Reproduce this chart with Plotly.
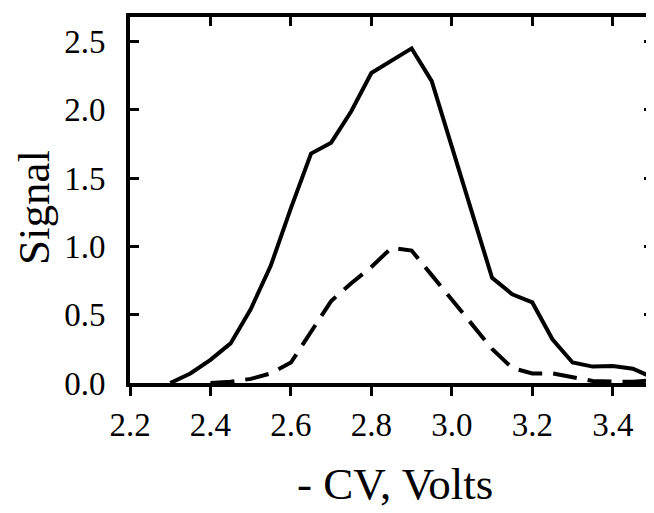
import plotly.graph_objects as go

# -CV sweep (Volts)
cv = [2.30, 2.35, 2.40, 2.45, 2.50, 2.55, 2.60, 2.65, 2.70, 2.75, 2.80, 2.85, 2.90,
      2.95, 3.00, 3.05, 3.10, 3.15, 3.20, 3.25, 3.30, 3.35, 3.40, 3.45, 3.50]
signal_solid = [0.00, 0.07, 0.17, 0.29, 0.54, 0.86, 1.28, 1.68, 1.76, 1.99, 2.27, 2.36, 2.45,
                2.21, 1.72, 1.25, 0.77, 0.65, 0.59, 0.32, 0.15, 0.12, 0.125, 0.105, 0.04]

cv_dash = [2.40, 2.45, 2.50, 2.55, 2.60, 2.65, 2.70, 2.75, 2.80, 2.85, 2.90,
           2.95, 3.00, 3.05, 3.10, 3.15, 3.20, 3.25, 3.30, 3.35, 3.40, 3.45, 3.50]
signal_dash = [0.00, 0.01, 0.03, 0.07, 0.15, 0.38, 0.60, 0.73, 0.85, 0.99, 0.97,
               0.79, 0.61, 0.43, 0.25, 0.11, 0.07, 0.07, 0.04, 0.015, 0.01, 0.01, 0.02]

x_ticks = [2.2, 2.4, 2.6, 2.8, 3.0, 3.2, 3.4]
y_ticks = [0.0, 0.5, 1.0, 1.5, 2.0, 2.5]

FONT = 'Liberation Serif'
xr = [2.2, 3.5]
yr = [0, 2.68]

fig = go.Figure()
fig.add_trace(go.Scatter(x=cv, y=signal_solid, mode='lines',
                         line=dict(color='black', width=4), showlegend=False))
fig.add_trace(go.Scatter(x=cv_dash, y=signal_dash, mode='lines',
                         line=dict(color='black', width=4, dash='24px,11px'),
                         showlegend=False))
# dummy trace so the top axis (inside ticks) gets drawn
fig.add_trace(go.Scatter(x=[2.2], y=[0], xaxis='x2', mode='markers',
                         marker=dict(opacity=0), showlegend=False, hoverinfo='skip'))

fig.update_layout(
    width=654, height=513,
    margin=dict(l=122, r=9, t=9, b=138),
    plot_bgcolor='white', paper_bgcolor='white',
    font=dict(family=FONT, color='black'),
    xaxis=dict(range=xr, tickvals=x_ticks, ticktext=[f'{v:.1f}' for v in x_ticks],
               ticks='outside', ticklen=9, tickwidth=3, tickcolor='black',
               showline=True, linewidth=4, linecolor='black', showgrid=False,
               zeroline=False, tickfont=dict(size=33), automargin=False),
    xaxis2=dict(range=xr, overlaying='x', side='top', tickvals=x_ticks,
                ticks='inside', ticklen=9, tickwidth=3, tickcolor='black',
                showticklabels=False, showline=True, linewidth=4, linecolor='black',
                showgrid=False, zeroline=False, automargin=False),
    yaxis=dict(range=yr, tickvals=y_ticks, ticktext=[f'{v:.1f}' for v in y_ticks],
               ticks='inside', ticklen=9, tickwidth=3, tickcolor='black',
               mirror='ticks', showline=True, linewidth=4, linecolor='black',
               showgrid=False, zeroline=False, tickfont=dict(size=33),
               ticklabelstandoff=14, automargin=False),
)

# axis titles as annotations for exact placement
fig.add_annotation(text='- CV, Volts', xref='paper', yref='paper',
                   x=0.507, y=-0.276, xanchor='center', yanchor='middle',
                   showarrow=False, font=dict(size=45, family=FONT))
fig.add_annotation(text='Signal', xref='paper', yref='paper',
                   x=-0.1836, y=0.481, xanchor='center', yanchor='middle',
                   textangle=-90, showarrow=False, font=dict(size=45, family=FONT))

fig.write_html('out.html')
